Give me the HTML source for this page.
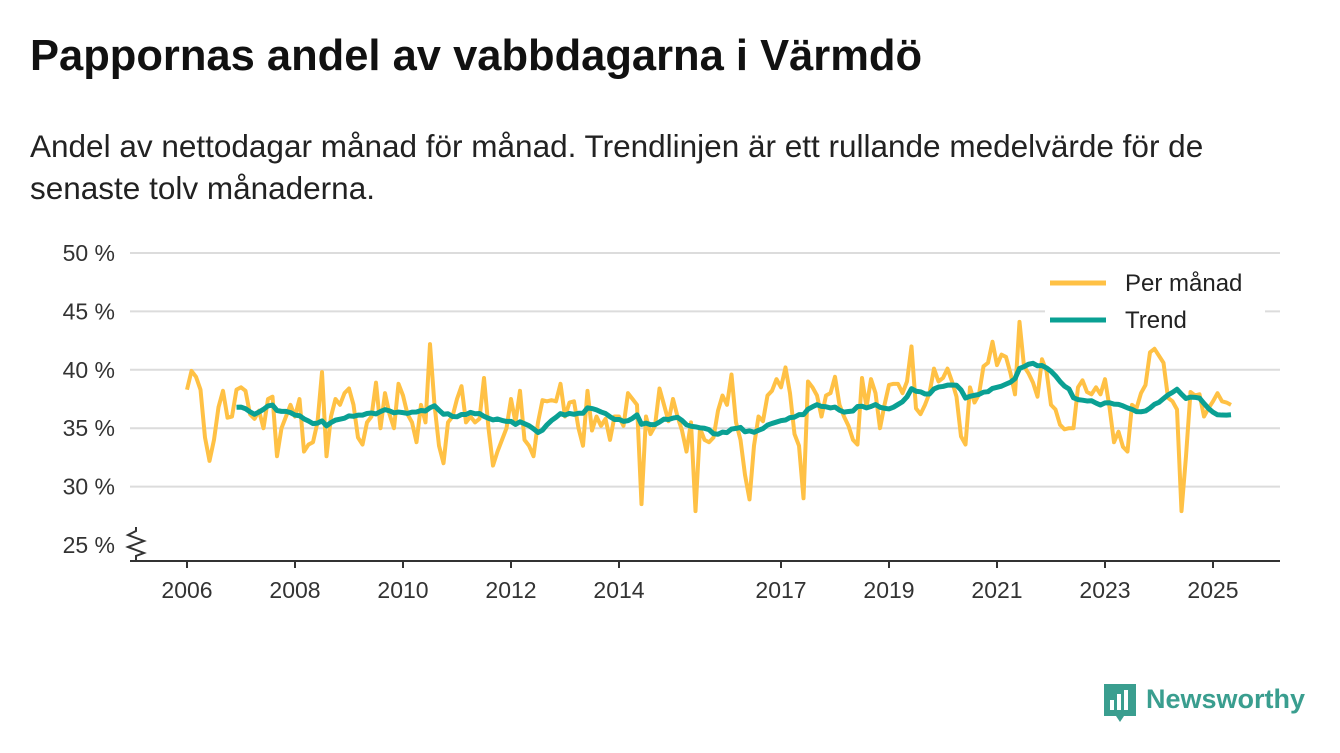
<!DOCTYPE html>
<html><head><meta charset="utf-8"><style>
body{margin:0;background:#fff;width:1340px;height:753px;overflow:hidden;font-family:"Liberation Sans","DejaVu Sans",sans-serif;color:#111}
#title{position:absolute;left:30px;top:32px;font-size:43.5px;font-weight:bold;margin:0;color:#111;white-space:nowrap}
#sub{position:absolute;left:30px;top:125px;font-size:31.5px;line-height:42px;width:1260px;color:#222}
svg{position:absolute;left:0;top:0}
</style></head><body>
<h1 id="title">Pappornas andel av vabbdagarna i Värmdö</h1>
<div id="sub">Andel av nettodagar månad för månad. Trendlinjen är ett rullande medelvärde för de senaste tolv månaderna.</div>
<svg id="chart" width="1340" height="753"></svg>
<script>
const startYear = 2006;
const yTicks = [25,30,35,40,45,50];
const xTickYears = [2006,2008,2010,2012,2014,2017,2019,2021,2023,2025];
const monthly = [
38.3,39.9,39.4,38.3,34.2,32.2,34.0,36.8,38.2,35.9,36.0,38.3,
38.5,38.2,36.2,35.8,36.5,35.0,37.5,37.7,32.6,35.0,36.0,37.0,
36.0,37.5,33.0,33.6,33.8,35.5,39.8,32.6,36.0,37.5,37.0,38.0,
38.4,37.0,34.2,33.6,35.5,36.0,38.9,35.0,38.0,36.2,35.0,38.8,
37.8,36.2,35.5,33.8,37.0,35.5,42.2,37.0,33.5,32.0,35.5,36.0,
37.5,38.6,35.5,36.0,35.5,35.8,39.3,35.0,31.8,33.0,34.0,35.0,
37.5,35.5,38.2,34.0,33.5,32.6,35.5,37.4,37.3,37.4,37.3,38.8,
36.0,37.2,37.3,35.0,33.5,38.2,34.8,36.0,35.2,35.8,34.0,36.0,
36.0,35.2,38.0,37.5,37.0,28.5,36.0,34.5,35.2,38.4,37.0,35.6,
37.5,36.0,34.8,33.0,35.5,27.9,35.0,34.0,33.8,34.2,36.5,37.8,
37.0,39.6,35.5,34.0,31.0,28.9,33.5,36.0,35.6,37.8,38.2,39.2,
38.5,40.2,38.0,34.5,33.5,29.0,39.0,38.5,37.8,36.0,37.8,38.0,
39.4,37.0,36.0,35.2,34.0,33.6,39.3,36.8,39.2,38.0,35.0,37.0,
38.7,38.8,38.8,38.0,39.0,42.0,36.7,36.2,37.0,38.0,40.1,39.0,
39.3,40.1,39.0,37.7,34.3,33.6,38.5,37.2,37.9,40.3,40.6,42.4,
40.4,41.3,41.1,39.7,37.9,44.1,40.3,39.7,38.9,37.7,40.9,39.9,
37.0,36.6,35.3,34.9,35.0,35.0,38.5,39.1,38.1,37.9,38.5,37.9,
39.2,36.8,33.8,34.7,33.4,33.0,37.0,36.7,38.0,38.7,41.5,41.8,
41.2,40.6,37.6,37.3,36.6,27.9,32.6,38.1,37.8,37.9,36.0,36.7,
37.3,38.0,37.3,37.2,37.0];
const trend = monthly.map((v,i)=> i<11 ? null : monthly.slice(i-11,i+1).reduce((a,b)=>a+b,0)/12);

const L=130,R=1280,x0=187,pxYear=54;
const xs = i => x0 + i*pxYear/12;
const xy = yr => x0 + (yr-startYear)*pxYear;
const ys = v => 545 - (v-25)*(545-253)/25;
const svg=document.getElementById('chart');
const NS='http://www.w3.org/2000/svg';
function mk(t,a){const e=document.createElementNS(NS,t);for(const k in a)e.setAttribute(k,a[k]);svg.appendChild(e);return e;}
yTicks.forEach(t=>{
  if(t>25){const g=mk('line',{x1:L,x2:R,y1:ys(t),y2:ys(t),stroke:'#dcdcdc','stroke-width':2});
  
  }
  const tx=mk('text',{x:115,y:ys(t)+8,'text-anchor':'end','font-size':23,fill:'#333'});
  tx.textContent=t+' %';
  
  
});
const ax=mk('line',{x1:L,x2:R,y1:561,y2:561,stroke:'#333','stroke-width':2});


const zz=mk('path',{d:'M136,527 L136,531 L128,535 L144,541 L128,547 L144,553 L136,556 L136,561',fill:'none',stroke:'#333','stroke-width':2});


xTickYears.forEach(yr=>{
  const x=xy(yr);
  const tk=mk('line',{x1:x,x2:x,y1:561,y2:568,stroke:'#333','stroke-width':2});
  
  
  const tx=mk('text',{x:x,y:598,'text-anchor':'middle','font-size':23,fill:'#333'});
  tx.textContent=yr;
  
  
});
const mp=mk('polyline',{points:monthly.map((v,i)=>xs(i)+','+ys(v)).join(' '),fill:'none',stroke:'#ffc145','stroke-width':4,'stroke-linejoin':'round'});


const tp=mk('polyline',{points:trend.map((v,i)=>v==null?null:xs(i)+','+ys(v)).filter(p=>p).join(' '),fill:'none',stroke:'#0aa093','stroke-width':5,'stroke-linejoin':'round'});


const lb=mk('rect',{x:1045,y:262,width:220,height:82,fill:'#fff'});


[['Per månad','#ffc145',283],['Trend','#0aa093',320]].forEach(([n,c,y])=>{
  const l=mk('line',{x1:1050,x2:1106,y1:y,y2:y,stroke:c,'stroke-width':5});
  
  
  const t=mk('text',{x:1125,y:y+8,'font-size':24,fill:'#222'});
  t.textContent=n;
  
  
});
const lg=mk('g',{});


lg.innerHTML='<path d="M1104,684 h32 v32 h-12 l-4,6 l-4,-6 h-12 z" fill="#3a9e8f"/><rect x="1110" y="700" width="4" height="10" fill="#fff"/><rect x="1117" y="694" width="4" height="16" fill="#fff"/><rect x="1124" y="690" width="4" height="20" fill="#fff"/><text x="1146" y="708" font-size="27" font-weight="bold" fill="#3a9e8f">Newsworthy</text>';
</script>
</body></html>
